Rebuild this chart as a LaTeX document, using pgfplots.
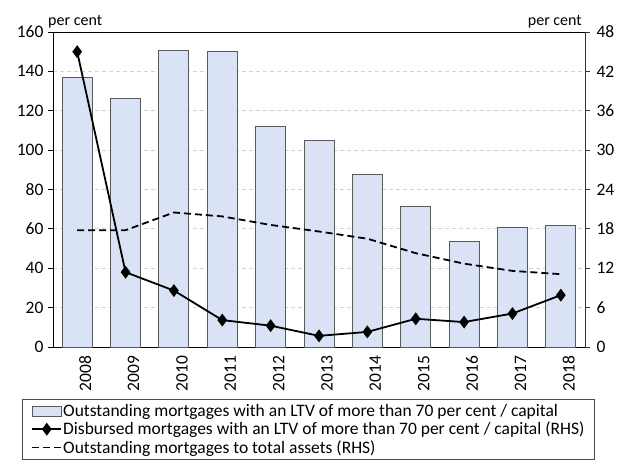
\documentclass[border=0pt]{standalone}
\usepackage{fontspec}
\setmainfont{Carlito}
\usepackage{pgfplots}
\pgfplotsset{compat=1.18}
\definecolor{barfill}{RGB}{218,227,246}
\definecolor{baredge}{RGB}{90,90,90}
\begin{document}
\begin{tikzpicture}
\begin{axis}[
  scale only axis, width=532pt, height=315pt,
  clip=false,
  xmin=-0.5, xmax=10.5, ymin=0, ymax=160,
  ytick={0,20,...,160},
  xtick={0,...,10},
  xticklabels={2008,2009,2010,2011,2012,2013,2014,2015,2016,2017,2018},
  xticklabel style={rotate=90, anchor=east},
  x tick label style={yshift=-8pt},
  major x tick style={draw=none},
  extra x ticks={-0.5,0.5,...,10.5},
  extra x tick labels={},
  extra x tick style={major tick length=5pt, tick style={black, line width=0.8pt}},
  xtick pos=bottom, ytick pos=left,
  tick align=outside, major tick length=5pt,
  tick style={black, line width=0.8pt},
  axis line style={line width=0.8pt},
  ymajorgrids, grid style={dash pattern=on 4pt off 3pt, gray!35, line width=0.8pt},
  /pgf/number format/assume math mode=true,
  tick label style={font=\fontsize{17.5}{21}\selectfont},
  yticklabel style={xshift=-1pt},
]
\coordinate (bl) at (rel axis cs:0,0);
\coordinate (tr) at (rel axis cs:1,1);
\addplot[ybar, bar width=30pt, fill=barfill, draw=baredge, line width=1pt]
  coordinates {(0,137) (1,126) (2,150.5) (3,150) (4,112) (5,105) (6,87.5) (7,71.2) (8,53.6) (9,60.7) (10,61.6)};
\node[anchor=south west, font=\fontsize{16}{19}\selectfont, inner sep=0pt] at ([xshift=-5pt,yshift=4pt]rel axis cs:0,1) {per cent};
\node[anchor=south east, font=\fontsize{16}{19}\selectfont, inner sep=0pt] at ([xshift=-3pt,yshift=4pt]rel axis cs:1,1) {per cent};
\end{axis}
\begin{axis}[
  scale only axis, width=532pt, height=315pt,
  xmin=-0.5, xmax=10.5, ymin=0, ymax=48,
  ytick={0,6,...,48},
  axis x line=none,
  axis y line*=right,
  ytick pos=right,
  tick align=outside, major tick length=5pt,
  tick style={black!80, line width=0.8pt},
  axis line style={black!80, line width=0.8pt},
  /pgf/number format/assume math mode=true,
  tick label style={font=\fontsize{17.5}{21}\selectfont},
  yticklabel style={xshift=3pt},
  legend style={at={([xshift=-31pt,yshift=-52pt]axis description cs:0,0)}, anchor=north west,
    draw=black!70, line width=0.8pt, font=\fontsize{17.5}{20}\selectfont,
    legend cell align=left, row sep=0pt, inner xsep=9pt, inner ysep=3pt,
    nodes={inner xsep=1pt}},
  legend image code/.code={\draw[mark repeat=2,mark phase=2,#1] plot coordinates {(0pt,0pt) (14.5pt,0pt) (29pt,0pt)};},
]
\addlegendimage{legend image code/.code={\draw[fill=barfill, draw=baredge, line width=1pt] (0pt,-5pt) rectangle (29pt,5pt);}}
\addlegendentry{Outstanding mortgages with an LTV of more than 70 per cent / capital}
\addplot[black, line width=1.8pt, mark=diamond*, mark size=5pt]
  coordinates {(0,45.0) (1,11.4) (2,8.6) (3,4.1) (4,3.25) (5,1.7) (6,2.3) (7,4.3) (8,3.8) (9,5.1) (10,7.9)};
\addlegendentry{Disbursed mortgages with an LTV of more than 70 per cent / capital (RHS)}
\addplot[black, line width=1.8pt, dash pattern=on 7pt off 4pt, mark=none]
  coordinates {(0,17.8) (1,17.8) (2,20.5) (3,19.9) (4,18.6) (5,17.6) (6,16.5) (7,14.3) (8,12.7) (9,11.6) (10,11.1)};
\addlegendentry{Outstanding mortgages to total assets (RHS)}
\end{axis}
\pgfresetboundingbox
\path[use as bounding box] ([shift={(-53pt,-112pt)}]bl) rectangle ([shift={(34pt,32pt)}]tr);
\end{tikzpicture}
\end{document}
